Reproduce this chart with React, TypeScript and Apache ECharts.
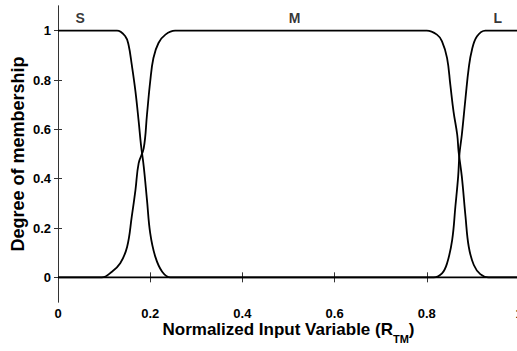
import React, { useEffect, useRef } from "react";
import * as echarts from "echarts";

const xS = [0, 0.128, 0.146, 0.153, 0.16, 0.168, 0.175, 0.18, 0.186, 0.193, 0.2, 0.211, 0.226, 0.244, 1];
const yS = [1, 1, 0.977, 0.943, 0.862, 0.754, 0.632, 0.537, 0.449, 0.314, 0.179, 0.084, 0.023, 0, 0];

const xM = [0, 0.095, 0.117, 0.135, 0.15, 0.16, 0.168, 0.175, 0.186, 0.193, 0.2, 0.207, 0.218, 0.233, 0.254,
  0.8, 0.822, 0.833, 0.844, 0.851, 0.858, 0.866, 0.869, 0.876, 0.884, 0.891, 0.902, 0.916, 0.934, 1];
const yM = [0, 0, 0.023, 0.057, 0.124, 0.246, 0.354, 0.463, 0.524, 0.659, 0.794, 0.889, 0.95, 0.984, 1,
  1, 0.984, 0.957, 0.889, 0.781, 0.672, 0.578, 0.51, 0.408, 0.246, 0.124, 0.05, 0.013, 0, 0];

const xL = [0, 0.815, 0.833, 0.844, 0.855, 0.862, 0.868, 0.871, 0.876, 0.884, 0.891, 0.898, 0.909, 0.927, 1];
const yL = [0, 0, 0.016, 0.057, 0.151, 0.287, 0.408, 0.503, 0.578, 0.727, 0.849, 0.923, 0.977, 1, 1];

const setNames = ["S", "M", "L"];
const setLabelX = [0.048, 0.513, 0.954];
const setLabelY = [1.05, 1.05, 1.05];

const yTicks = [0, 0.2, 0.4, 0.6, 0.8, 1];

const FONT = "'Liberation Sans', Arial, Helvetica, sans-serif";

const zip = (xs: number[], ys: number[]) => xs.map((x, i) => [x, ys[i]]);

export default function App() {
  const ref = useRef<HTMLDivElement>(null);
  useEffect(() => {
    document.body.style.margin = "0";
    const chart = echarts.init(ref.current!, null, { renderer: "svg" });
    const axisColor = "#333";
    const curve = (data: number[][]) => ({
      type: "line",
      data,
      showSymbol: false,
      smooth: 0.4,
      lineStyle: { color: "#000", width: 1.8 },
      xAxisIndex: 0,
      yAxisIndex: 0,
    });
    chart.setOption({
      animation: false,
      backgroundColor: "#fff",
      textStyle: { fontFamily: FONT },
      grid: { left: 58, right: -2, top: 6, bottom: 49, containLabel: false, outerBoundsMode: "none" },
      xAxis: [
        {
          type: "value",
          min: 0,
          max: 1,
          interval: 0.2,
          axisLine: { show: true, lineStyle: { color: axisColor, width: 1 } },
          axisTick: { show: true, inside: true, length: 5, lineStyle: { color: axisColor } },
          axisLabel: { color: "#000", fontWeight: "bold", fontSize: 13, margin: 5, lineHeight: 13, fontFamily: FONT },
          splitLine: { show: false },
          name: "{a|Normalized Input Variable (R}{s|TM}{a|)}",
          nameLocation: "middle",
          nameGap: 23,
          nameMoveOverlap: false,
          nameTextStyle: {
            fontFamily: FONT,
            rich: {
              a: { fontSize: 17, fontWeight: "bold", color: "#000", fontFamily: FONT, lineHeight: 16, padding: [0, 0, 8, 0] },
              s: { fontSize: 11, fontWeight: "bold", color: "#000", fontFamily: FONT, lineHeight: 11, padding: [12, 0, 0, 0] },
            },
          },
        },
        {
          type: "value",
          position: "top",
          min: 0,
          max: 1,
          interval: 0.2,
          axisLine: { show: true, lineStyle: { color: axisColor, width: 1 } },
          axisTick: { show: true, inside: true, length: 5, lineStyle: { color: axisColor } },
          axisLabel: { show: false },
          splitLine: { show: false },
        },
      ],
      yAxis: [
        {
          type: "value",
          min: -0.1,
          max: 1.1,
          axisLine: { show: true, lineStyle: { color: axisColor, width: 1 } },
          axisTick: { show: true, inside: true, length: 4, lineStyle: { color: axisColor }, customValues: yTicks },
          axisLabel: { color: "#000", fontWeight: "bold", fontSize: 13, margin: 7, fontFamily: FONT, customValues: yTicks },
          splitLine: { show: false },
          name: "Degree of membership",
          nameLocation: "middle",
          nameGap: 31,
          nameMoveOverlap: false,
          nameTextStyle: { fontSize: 18, fontWeight: "bold", color: "#000", fontFamily: FONT },
        },
        {
          type: "value",
          position: "right",
          min: -0.1,
          max: 1.1,
          axisLine: { show: true, lineStyle: { color: axisColor, width: 1 } },
          axisTick: { show: true, inside: true, length: 4, lineStyle: { color: axisColor }, customValues: yTicks },
          axisLabel: { show: false },
          splitLine: { show: false },
        },
      ],
      series: [
        curve(zip(xS, yS)),
        curve(zip(xM, yM)),
        curve(zip(xL, yL)),
        {
          type: "scatter",
          symbolSize: 0,
          data: setNames.map((n, i) => [setLabelX[i], setLabelY[i], n]),
          label: {
            show: true,
            position: "inside",
            formatter: (p: any) => p.data[2],
            color: "#000",
            fontWeight: "bold",
            fontSize: 14,
            fontFamily: FONT,
          },
          xAxisIndex: 0,
          yAxisIndex: 0,
        },
      ],
    });
    return () => chart.dispose();
  }, []);
  return <div ref={ref} style={{ width: 517, height: 351 }} />;
}
